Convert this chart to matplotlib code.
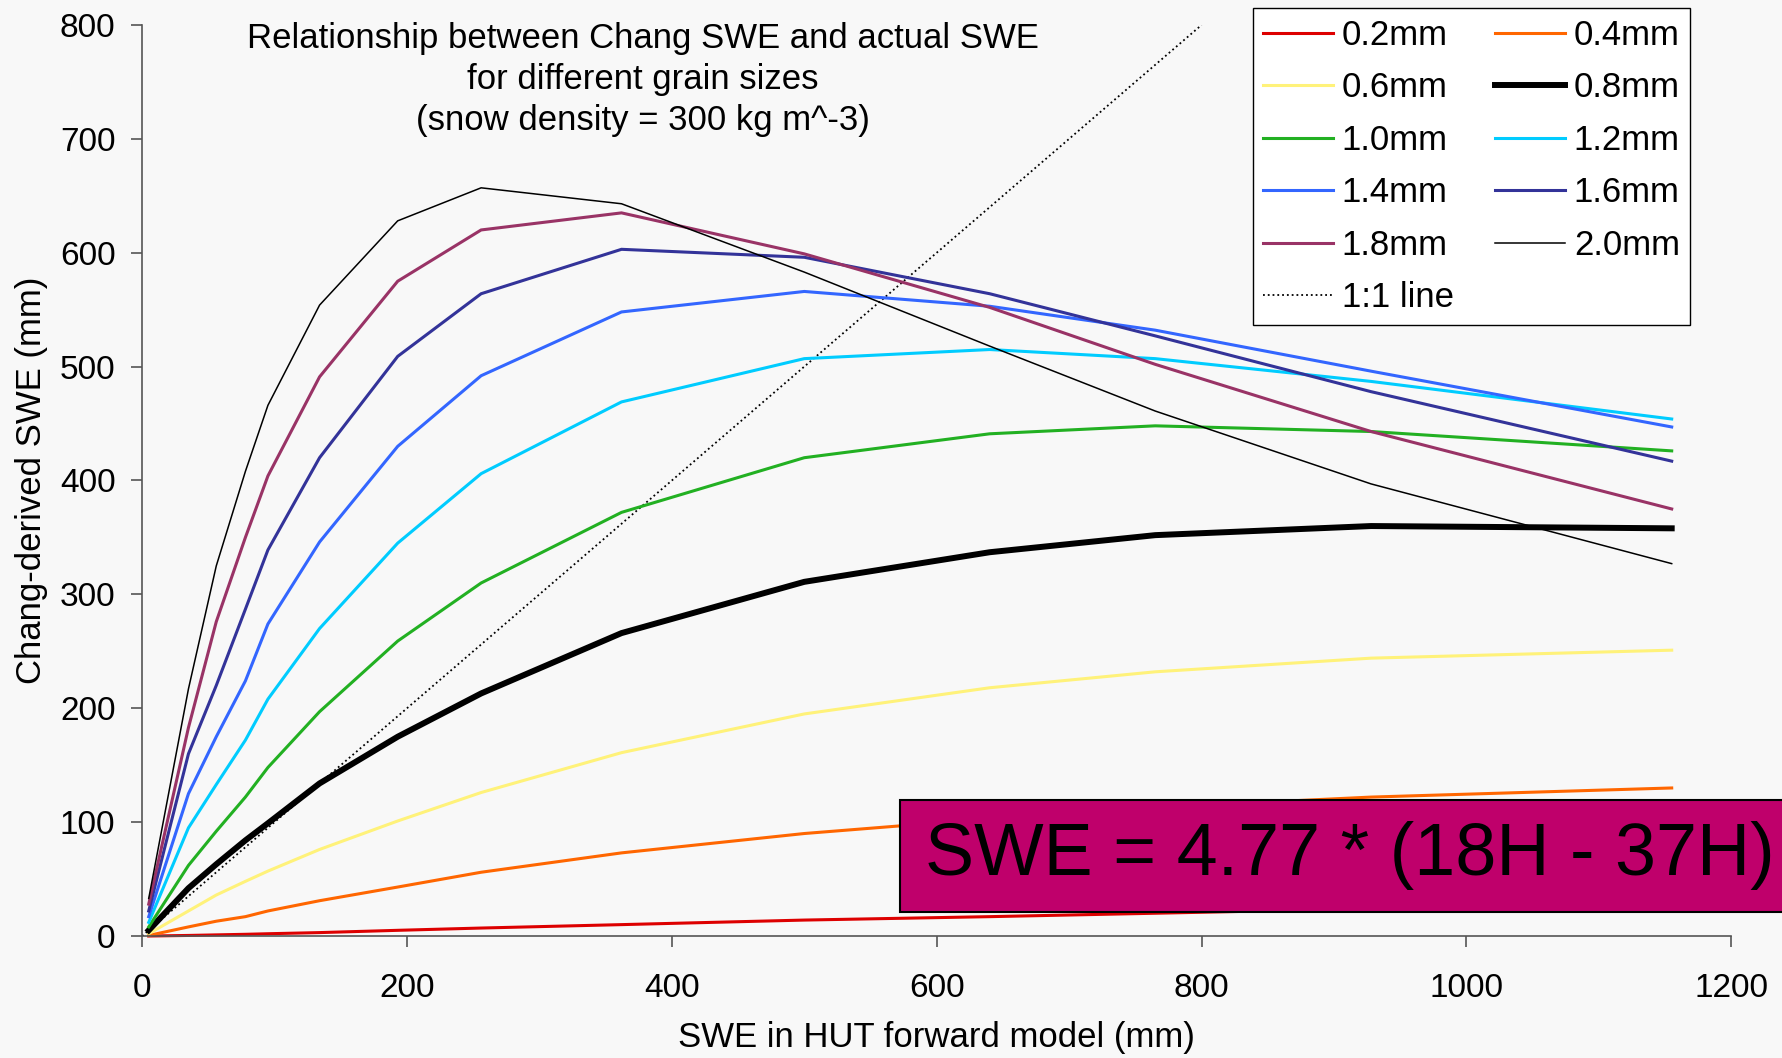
import numpy as np
import matplotlib
matplotlib.use("Agg")
import matplotlib.pyplot as plt
from matplotlib.patches import Rectangle

plt.rcParams['font.family'] = ['Liberation Sans', 'DejaVu Sans']

# SWE in HUT forward model (mm), shared by every grain size
swe_hut = [5, 35, 56, 78, 95, 134, 193, 256, 362, 500, 640, 765, 928, 1155]

# Chang-derived SWE (mm) per grain size
g02 = [0, 0.5, 1, 1.5, 2, 3, 5, 7, 10, 14, 17, 20, 24, 28]
g04 = [0.5, 8, 13, 17, 22, 31, 43, 56, 73, 90, 103, 113, 122, 130]
g06 = [2, 22, 36, 48, 57, 76, 101, 126, 161, 195, 218, 232, 244, 251]
g08 = [5, 42, 63, 84, 99, 134, 175, 213, 266, 311, 337, 352, 360, 358]
g10 = [8, 62, 92, 122, 148, 197, 259, 310, 372, 420, 441, 448, 443, 426]
g12 = [12, 95, 133, 172, 208, 270, 345, 406, 469, 507, 515, 507, 487, 454]
g14 = [17, 125, 175, 224, 274, 346, 430, 492, 548, 566, 553, 532, 496, 447]
g16 = [22, 160, 220, 287, 339, 420, 509, 564, 603, 596, 564, 527, 478, 417]
g18 = [28, 183, 276, 350, 404, 491, 575, 620, 635, 599, 552, 502, 443, 375]
g20 = [33, 217, 325, 408, 466, 554, 628, 657, 643, 583, 518, 461, 397, 327]

labels = ['0.2mm', '0.4mm', '0.6mm', '0.8mm', '1.0mm',
          '1.2mm', '1.4mm', '1.6mm', '1.8mm', '2.0mm']
series = [g02, g04, g06, g08, g10, g12, g14, g16, g18, g20]
colors = ['#DD0000', '#FF6600', '#FFF27A', 'black', '#22B022',
          '#00CCFF', '#3366FF', '#333399', '#993366', 'black']
widths = [2.2, 2.2, 2.2, 4.3, 2.2, 2.2, 2.2, 2.2, 2.2, 1.1]

one_to_one = [0, 800]

bg = '#F8F8F8'
fig = plt.figure(figsize=(17.83, 10.58), dpi=100, facecolor=bg)
ax = fig.add_axes([0.0797, 0.1153, 0.8913, 0.8611], facecolor=bg)

# dotted 1:1 line first so the curves sit on top of it
l11, = ax.plot(one_to_one, one_to_one, ':', color='black', lw=1.3, label='1:1 line')

lines = {}
for lab, y, c, w in zip(labels, series, colors, widths):
    ln, = ax.plot(swe_hut, y, color=c, lw=w, label=lab, clip_on=False,
                  solid_joinstyle='miter')
    lines[lab] = ln

ax.set_xlim(0, 1200)
ax.set_ylim(0, 800)
ax.set_xticks(np.arange(0, 1201, 200))
ax.set_yticks(np.arange(0, 801, 100))
for s in ['top', 'right']:
    ax.spines[s].set_visible(False)
for s in ['left', 'bottom']:
    ax.spines[s].set_color('#555555')
    ax.spines[s].set_linewidth(1.2)
ax.tick_params(axis='both', direction='out', length=7.7, width=1.2,
               color='#555555', labelsize=24)
ax.tick_params(axis='x', pad=19)
ax.tick_params(axis='y', pad=11.5)

ax.set_xlabel('SWE in HUT forward model (mm)', fontsize=25)
ax.set_ylabel('Chang-derived SWE (mm)', fontsize=25)
ax.xaxis.set_label_coords(0.5, -0.093)
ax.yaxis.set_label_coords(-0.059, 0.5)

fig.text(0.3604, 0.979,
         'Relationship between Chang SWE and actual SWE\nfor different grain sizes\n(snow density = 300 kg m^-3)',
         ha='center', va='top', fontsize=25, multialignment='center', linespacing=1.3)

# legend: left column 0.2,0.6,...,1:1 ; right column 0.4,0.8,...,2.0
order = ['0.2mm', '0.6mm', '1.0mm', '1.4mm', '1.8mm']
handles = [lines[k] for k in order] + [l11]
handles += [lines[k] for k in ['0.4mm', '0.8mm', '1.2mm', '1.6mm', '2.0mm']]
leg = fig.legend(handles=handles, labels=[h.get_label() for h in handles],
                 ncol=2, loc='upper right', bbox_to_anchor=(0.948, 0.992),
                 borderaxespad=0, fontsize=25, frameon=True, fancybox=False,
                 framealpha=1, edgecolor='black', facecolor='white',
                 handlelength=2.0, labelspacing=0.56, columnspacing=1.2,
                 handletextpad=0.26, borderpad=0.3)
leg.get_frame().set_linewidth(1.0)

# magenta formula box, running off the right edge
box = Rectangle((0.505, 0.138), 0.52, 0.106, transform=fig.transFigure,
                facecolor='#BF006B', edgecolor='black', lw=1.5, zorder=5)
fig.add_artist(box)
fig.text(0.519, 0.191, 'SWE = 4.77 * (18H - 37H)', fontsize=53,
         ha='left', va='center', zorder=6)

fig.savefig('out.png', dpi=100, facecolor=bg)
